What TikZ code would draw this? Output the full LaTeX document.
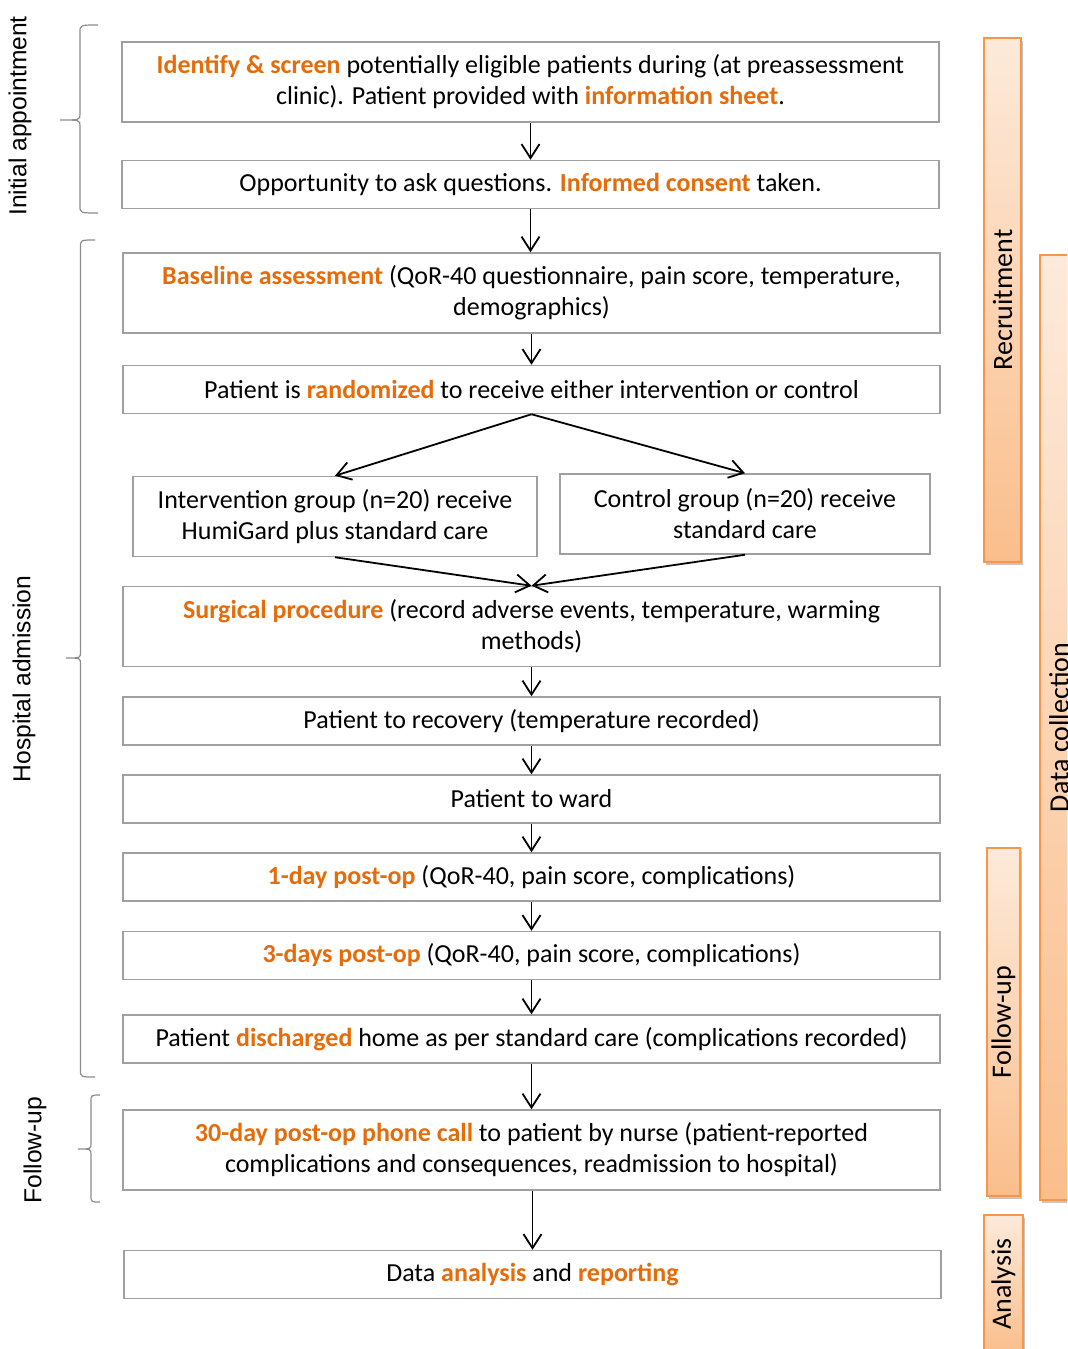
\documentclass[tikz,border=0pt]{standalone}
\usepackage{fontspec}
\setmainfont{Carlito}
\newfontfamily\sidefont{Liberation Sans}
\usepackage{xcolor}
\usetikzlibrary{arrows.meta}
\usetikzlibrary{shadows}

\definecolor{keyorange}{RGB}{228,108,10}
\definecolor{boxgray}{RGB}{160,160,160}
\definecolor{barlight}{RGB}{253,234,218}
\definecolor{bardark}{RGB}{250,190,140}
\definecolor{baredge}{RGB}{247,150,70}
\newcommand{\keyword}[1]{\textcolor{keyorange}{\textbf{#1}}}
% curly bracket: #1 x of the ends, #2 x of the stem, #3 x of the tip, #4 top, #5 tip, #6 bottom
\newcommand{\stagebrace}[6]{%
  \draw[sidebrace] (#1,#4) .. controls (#2,#4) .. (#2,#4+7) -- (#2,#5-6)
    .. controls (#2,#5) .. (#3,#5) .. controls (#2,#5) .. (#2,#5+6)
    -- (#2,#6-7) .. controls (#2,#6) .. (#1,#6);}

\tikzset{
  stepbox/.style={draw=boxgray, line width=0.75pt, fill=white, align=center,
    inner sep=2pt, font=\fontsize{13}{15.5}\selectfont},
  onerow/.style={stepbox, minimum width=408.5pt, minimum height=24pt},
  tworow/.style={stepbox, minimum width=408.5pt, minimum height=40pt},
  flow/.style={-{Straight Barb[length=7pt, width=9pt]}, line width=0.9pt},
  phasebar/.style={draw=baredge, line width=0.8pt, top color=barlight, bottom color=bardark,
    drop shadow={shadow xshift=1.2pt, shadow yshift=-1.5pt, fill=black!45, opacity=0.5},
    inner sep=0pt, font=\fontsize{14}{16}\selectfont},
  sidebrace/.style={draw=black!45, line width=0.6pt},
  sidelabel/.style={rotate=90, font=\sidefont\fontsize{12.3}{15}\selectfont}
}

\begin{document}
\begin{tikzpicture}[x=0.5pt, y=-0.5pt]
  \useasboundingbox[fill=white] (0,0) rectangle (1067,1349);
  \clip (0,0) rectangle (1067,1349);

  % phase bars on the right
  \node[phasebar, minimum width=19pt, minimum height=472.5pt] (datacol) at (1059,727.5)
    {\rotatebox{90}{Data collection}};
  \node[phasebar, minimum width=18.5pt, minimum height=262pt] (recruit) at (1002.5,300)
    {\rotatebox{90}{Recruitment}};
  \node[phasebar, minimum width=16.5pt, minimum height=174pt] (followbar) at (1003.5,1022)
    {\rotatebox{90}{Follow-up}};
  \node[phasebar, minimum width=19.5pt, minimum height=69pt] (analysisbar) at (1003.5,1284)
    {\rotatebox{90}{Analysis}};

  % steps
  \node[tworow] (identify) at (530.5,82)
    {\keyword{Identify \& screen} potentially eligible patients during (at preassessment\\
     clinic). Patient provided with \keyword{information sheet}.};
  \node[onerow] (consent) at (530.5,184.5)
    {Opportunity to ask questions. \keyword{Informed consent} taken.};
  \node[tworow] (baseline) at (531.5,293)
    {\keyword{Baseline assessment} (QoR-40 questionnaire, pain score, temperature,\\
     demographics)};
  \node[onerow] (random) at (531.5,389.5)
    {Patient is \keyword{randomized} to receive either intervention or control};
  \node[tworow, minimum width=202pt] (interv) at (335,516.5)
    {Intervention group (n=20) receive\\ HumiGard plus standard care};
  \node[tworow, minimum width=185pt] (control) at (745,514)
    {Control group (n=20) receive\\ standard care};
  \node[tworow] (surgery) at (531.5,626.5)
    {\keyword{Surgical procedure} (record adverse events, temperature, warming\\ methods)};
  \node[onerow] (recovery) at (531.5,721)
    {Patient to recovery (temperature recorded)};
  \node[onerow] (ward) at (531.5,799)
    {Patient to ward};
  \node[onerow] (dayone) at (531.5,877)
    {\keyword{1-day post-op} (QoR-40, pain score, complications)};
  \node[onerow] (daythree) at (531.5,955.5)
    {\keyword{3-days post-op} (QoR-40, pain score, complications)};
  \node[onerow] (discharge) at (531.5,1039)
    {Patient \keyword{discharged} home as per standard care (complications recorded)};
  \node[tworow] (phone) at (531.5,1150)
    {\keyword{30-day post-op phone call} to patient by nurse (patient-reported\\
     complications and consequences, readmission to hospital)};
  \node[onerow] (analysis) at (532.5,1274.5)
    {Data \keyword{analysis} and \keyword{reporting}};

  % arrows
  \draw[flow] (identify.south) -- (consent.north);
  \draw[flow] (consent.south) -- (consent.south |- baseline.north);
  \draw[flow] (baseline.south) -- (random.north);
  \draw[flow] (random.south) -- (interv.north);
  \draw[flow] (random.south) -- (control.north);
  \draw[flow] (interv.south) -- (surgery.north);
  \draw[flow] (control.south) -- (surgery.north);
  \draw[flow] (surgery.south) -- (recovery.north);
  \draw[flow] (recovery.south) -- (ward.north);
  \draw[flow] (ward.south) -- (dayone.north);
  \draw[flow] (dayone.south) -- (daythree.north);
  \draw[flow] (daythree.south) -- (discharge.north);
  \draw[flow] (discharge.south) -- (phone.north);
  \draw[flow] (analysis.north |- phone.south) -- (analysis.north);

  % braces and stage labels on the left
  \stagebrace{98}{80}{60}{25}{120}{213}
  \stagebrace{95}{80.5}{66}{240}{658}{1077}
  \stagebrace{100}{91}{78}{1095}{1149}{1202}
  \node[sidelabel] (initlabel) at (20,116) {Initial appointment};
  \node[sidelabel] (hosplabel) at (24,679) {Hospital admission};
  \node[sidelabel] (followlabel) at (35,1150) {Follow-up};
\end{tikzpicture}
\end{document}
